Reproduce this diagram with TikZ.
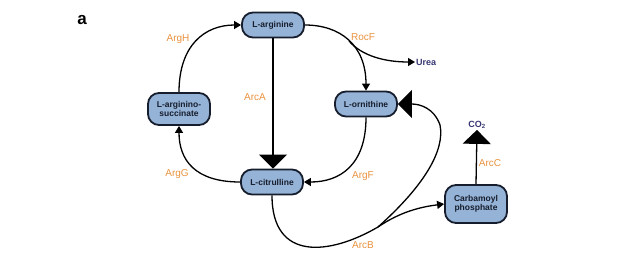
\documentclass[tikz,border=0pt]{standalone}
\usepackage{fontspec}
\setmainfont{Liberation Sans}
\usetikzlibrary{arrows.meta}
\definecolor{boxfill}{RGB}{149,179,215}
\definecolor{boxline}{RGB}{22,30,45}
\definecolor{enz}{RGB}{232,146,62}
\definecolor{prod}{RGB}{55,55,115}
\begin{document}
\begin{tikzpicture}[x=1pt,y=-1pt,
  met/.style={draw=boxline, fill=boxfill, line width=1.8pt, rounded corners=11pt,
    font=\fontsize{8.5}{9.5}\selectfont\bfseries, text=boxline, align=center,
    minimum width=62pt, inner sep=1pt},
  enzlab/.style={text=enz, font=\fontsize{10}{12}\selectfont},
  prodlab/.style={text=prod, font=\fontsize{9}{11}\selectfont\bfseries, inner sep=1pt},
  conn/.style={draw=black, line width=1.3pt},
  sm/.style={conn, -{Triangle[width=8pt,length=7pt]}},
  big/.style={conn, -{Triangle[width=28pt,length=14pt]}}]
\useasboundingbox (0,0) rectangle (618,263);
\node[font=\fontsize{17}{19}\selectfont\bfseries] (lab) at (82,20) {a};
\node[met, minimum height=25pt] (arg) at (273,25) {L-arginine};
\node[met, minimum height=25pt] (orn) at (366,104) {L-ornithine};
\node[met, minimum height=25pt] (cit) at (272,182) {L-citrulline};
\node[met, minimum height=32pt] (suc) at (179,109) {L-arginino-\\succinate};
\node[met, minimum height=38pt] (carb) at (476,204) {Carbamoyl\\phosphate};
\node[prodlab, anchor=west] (urea) at (415,62) {Urea};
\node[prodlab] (co2) at (477,125) {CO\textsubscript{2}};
\node[enzlab] (argh) at (178,39) {ArgH};
\node[enzlab] (rocf) at (363,37) {RocF};
\node[enzlab] (arca) at (255,97) {ArcA};
\node[enzlab] (argg) at (177,174) {ArgG};
\node[enzlab] (argf) at (363,176) {ArgF};
\node[enzlab] (arcc) at (490,163) {ArcC};
\node[enzlab] (arcb) at (363,245) {ArcB};
\coordinate (rj) at (349,41);
\coordinate (jn) at (378,227);
% ArgH
\draw[sm] (suc.north) .. controls (179,45) and (205,25) .. (arg.west);
% RocF
\draw[sm] (arg.east) .. controls (340,25) and (366,45) .. (orn.north);
\draw[sm] (rj) .. controls (362,56) and (385,62) .. (urea.west);
% ArcA
\draw[big] (arg.south) -- (cit.north -| arg.south);
% ArgF
\draw[sm] (orn.south) .. controls (366,165) and (340,182) .. (cit.east);
% ArgG
\draw[sm] (cit.west) .. controls (195,182) and (179,160) .. (suc.south);
% ArcB
\draw[conn] (cit.south) .. controls (272,262) and (330,255) .. (jn);
\draw[sm] (jn) .. controls (400,212) and (420,207) .. (carb.west);
\draw[big] (jn) .. controls (425,185) and (445,150) .. (440,125) .. controls (434,108) and (420,104) .. (orn.east);
% ArcC
\draw[big] (carb.north) -- (co2.south);
\end{tikzpicture}
\end{document}
